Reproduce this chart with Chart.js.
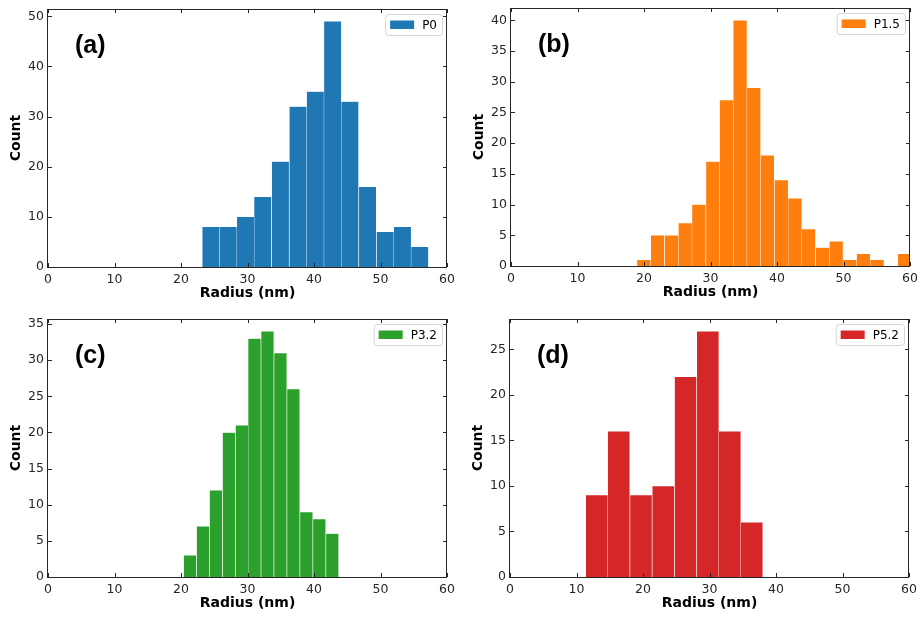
<!DOCTYPE html>
<html lang="en">
<head>
<meta charset="UTF-8">
<title>Radius histograms</title>
<style>
  body { margin: 0; background: #fff; overflow: hidden; }
  canvas { position: absolute; }
</style>
<script src="https://cdn.jsdelivr.net/npm/chart.js"></script>
</head>
<body>
<canvas id="chartA" width="456" height="310" style="left:0;top:0"></canvas>
<canvas id="chartB" width="456" height="310" style="left:463px;top:-1px"></canvas>
<canvas id="chartC" width="456" height="310" style="left:0;top:310px"></canvas>
<canvas id="chartD" width="456" height="310" style="left:462px;top:310px"></canvas>
<script>
// bin edges (nm) and counts
const edgesA = [23.2, 25.8, 28.4, 31.0, 33.6, 36.3, 38.9, 41.5, 44.1, 46.7, 49.4, 52.0, 54.6, 57.2];
const countsA = [8, 8, 10, 14, 21, 32, 35, 49, 33, 16, 7, 8, 4];

const edgesB = [18.95, 21.0, 23.1, 25.2, 27.2, 29.3, 31.4, 33.4, 35.5, 37.5, 39.6, 41.7, 43.7, 45.8, 47.9, 49.9, 52.0, 54.0, 56.1, 58.2, 60.2];
const countsB = [1, 5, 5, 7, 10, 17, 27, 40, 29, 18, 14, 11, 6, 3, 4, 1, 2, 1, 0, 2];

const edgesC = [20.4, 22.3, 24.3, 26.2, 28.2, 30.1, 32.0, 34.0, 35.9, 37.9, 39.8, 41.8, 43.7];
const countsC = [3, 7, 12, 20, 21, 33, 34, 31, 26, 9, 8, 6];

const edgesD = [11.4, 14.7, 18.0, 21.4, 24.7, 28.1, 31.4, 34.7, 38.0];
const countsD = [9, 16, 9, 10, 22, 27, 16, 6];

const xTicks = [0, 10, 20, 30, 40, 50, 60];

const TICK_FONT = { family: 'DejaVu Sans', size: 12.5 };
const TITLE_FONT = { family: 'DejaVu Sans', size: 14, weight: 'bold' };

// spines, inward ticks on all four sides, legend box and panel letter
const decoPlugin = {
    id: 'deco',
    afterDraw(chart, args, opts) {
        const ctx = chart.ctx;
        const { left, right, top, bottom } = chart.chartArea;
        const xs = chart.scales.x, ys = chart.scales.y;
        ctx.save();
        ctx.strokeStyle = '#262626';
        ctx.lineWidth = 1;
        ctx.beginPath();
        xs.ticks.forEach(t => {
            const p = Math.round(xs.getPixelForValue(t.value)) + 0.5;
            ctx.moveTo(p, bottom); ctx.lineTo(p, bottom - 4);
            ctx.moveTo(p, top); ctx.lineTo(p, top + 4);
        });
        ys.ticks.forEach(t => {
            const p = Math.round(ys.getPixelForValue(t.value)) + 0.5;
            ctx.moveTo(left, p); ctx.lineTo(left + 4, p);
            ctx.moveTo(right, p); ctx.lineTo(right - 4, p);
        });
        ctx.stroke();
        ctx.strokeRect(Math.round(left) - 0.5, Math.round(top) + 0.5, Math.round(right - left), Math.round(bottom - top));

        // legend
        const ds = chart.data.datasets[0];
        ctx.font = '12px "DejaVu Sans"';
        const tw = ctx.measureText(ds.label).width;
        const bw = 5 + 24 + 8 + tw + 5, bh = 21;
        const bx = right - 5 - bw, by = top + 5;
        ctx.beginPath();
        ctx.roundRect(bx + 0.5, by + 0.5, bw, bh, 3);
        ctx.fillStyle = 'rgba(255,255,255,0.8)';
        ctx.fill();
        ctx.strokeStyle = '#d6d6d6';
        ctx.stroke();
        ctx.fillStyle = ds.backgroundColor;
        ctx.fillRect(bx + 5, by + 6.5, 24, 8.5);
        ctx.fillStyle = '#000';
        ctx.textBaseline = 'middle';
        ctx.textAlign = 'left';
        ctx.fillText(ds.label, bx + 37, by + bh / 2 + 1);

        // panel letter
        ctx.font = 'bold 25px "Liberation Sans"';
        ctx.fillText(opts.tag, left + 27, top + 37);
        ctx.restore();
    }
};

function makeChart(id, label, color, edges, counts, yMax, yStep, tag) {
    const points = counts.map((c, i) => ({ x: (edges[i] + edges[i + 1]) / 2, y: c }));
    return new Chart(document.getElementById(id), {
        type: 'bar',
        data: {
            datasets: [{
                label: label,
                data: points,
                backgroundColor: color,
                borderColor: 'rgba(255,255,255,0.22)',
                borderWidth: 0.5,
                barPercentage: 1,
                categoryPercentage: 1
            }]
        },
        options: {
            responsive: false,
            animation: false,
            layout: { padding: { top: 9, right: 9, left: 0, bottom: 0 } },
            plugins: {
                legend: { display: false },
                tooltip: { enabled: false },
                deco: { tag: tag }
            },
            scales: {
                x: {
                    type: 'linear',
                    min: 0,
                    max: 60,
                    offset: false,
                    grid: { display: false, drawTicks: false },
                    border: { display: false },
                    afterBuildTicks: s => { s.ticks = xTicks.map(v => ({ value: v })); },
                    ticks: { padding: 5, color: '#262626', font: TICK_FONT, maxRotation: 0 },
                    title: { display: true, text: 'Radius (nm)', color: '#000', font: TITLE_FONT, padding: { top: 0, bottom: 8 } },
                    afterFit: s => { s.height = 43; s.paddingLeft = 0; s.paddingRight = 0; }
                },
                y: {
                    min: 0,
                    max: yMax,
                    grid: { display: false, drawTicks: false },
                    border: { display: false },
                    ticks: { stepSize: yStep, includeBounds: false, padding: 4, color: '#262626', font: TICK_FONT },
                    title: { display: true, text: 'Count', color: '#000', font: TITLE_FONT, padding: { top: 8, bottom: 0 } },
                    afterFit: s => { s.width = 48; s.paddingTop = 0; s.paddingBottom = 0; }
                }
            }
        },
        plugins: [decoPlugin]
    });
}

makeChart('chartA', 'P0', '#1f77b4', edgesA, countsA, 51.45, 10, '(a)');
makeChart('chartB', 'P1.5', '#ff7f0e', edgesB, countsB, 42, 5, '(b)');
makeChart('chartC', 'P3.2', '#2ca02c', edgesC, countsC, 35.7, 5, '(c)');
makeChart('chartD', 'P5.2', '#d62728', edgesD, countsD, 28.35, 5, '(d)');
</script>
</body>
</html>
